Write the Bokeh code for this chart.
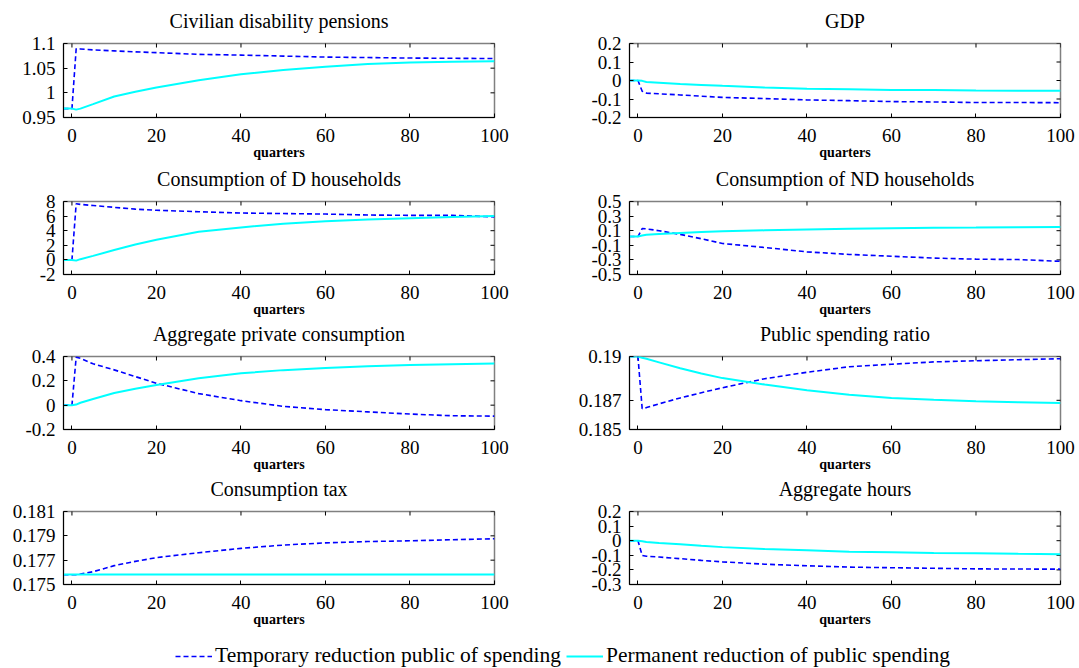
import math
from bokeh.plotting import figure
from bokeh.models import Range1d, FixedTicker, Legend, LegendItem, LinearAxis
from bokeh.layouts import column, row
from bokeh.embed import file_html
from bokeh.resources import INLINE

# ---------------- data ----------------
quarters = [-2, 0, 1, 2, 5, 10, 15, 20, 30, 40, 50, 60, 70, 80, 90, 100]
x_ticks = [0, 20, 40, 60, 80, 100]

titles = [
    "Civilian disability pensions", "GDP",
    "Consumption of D households", "Consumption of ND households",
    "Aggregate private consumption", "Public spending ratio",
    "Consumption tax", "Aggregate hours",
]
x_label = "quarters"
legend_labels = ["Temporary reduction public of spending",
                 "Permanent reduction of public spending"]

temp_pensions = [0.968, 0.968, 1.0895, 1.089, 1.087, 1.085, 1.083, 1.0815, 1.078, 1.0765, 1.0745, 1.0725, 1.0715, 1.0705, 1.070, 1.0695]
perm_pensions = [0.968, 0.968, 0.966, 0.968, 0.977, 0.9925, 1.002, 1.011, 1.0255, 1.0375, 1.0465, 1.053, 1.0585, 1.0615, 1.063, 1.064]
yt_pensions = [0.95, 1.0, 1.05, 1.1]
yl_pensions = ["0.95", "1", "1.05", "1.1"]

temp_gdp = [0, 0, -0.058, -0.068, -0.072, -0.078, -0.085, -0.091, -0.098, -0.105, -0.109, -0.114, -0.116, -0.119, -0.119, -0.120]
perm_gdp = [0, 0, -0.002, -0.008, -0.012, -0.019, -0.024, -0.029, -0.038, -0.044, -0.047, -0.051, -0.052, -0.054, -0.055, -0.056]
yt_gdp = [-0.2, -0.1, 0.0, 0.1, 0.2]
yl_gdp = ["-0.2", "-0.1", "0", "0.1", "0.2"]

temp_cons_d = [0, 0, 7.7, 7.6, 7.45, 7.2, 6.95, 6.8, 6.6, 6.42, 6.35, 6.28, 6.15, 6.1, 6.1, 5.9]
perm_cons_d = [0, 0, -0.1, 0.1, 0.55, 1.35, 2.1, 2.75, 3.85, 4.45, 4.95, 5.3, 5.55, 5.72, 5.88, 6.0]
yt_cons_d = [-2, 0, 2, 4, 6, 8]
yl_cons_d = ["-2", "0", "2", "4", "6", "8"]

temp_cons_nd = [0.02, 0.02, 0.13, 0.125, 0.1, 0.05, -0.01, -0.075, -0.13, -0.19, -0.225, -0.25, -0.275, -0.29, -0.295, -0.32]
perm_cons_nd = [0.02, 0.02, 0.035, 0.045, 0.055, 0.07, 0.082, 0.092, 0.105, 0.118, 0.127, 0.135, 0.14, 0.143, 0.147, 0.15]
yt_cons_nd = [-0.5, -0.3, -0.1, 0.1, 0.3, 0.5]
yl_cons_nd = ["-0.5", "-0.3", "-0.1", "0.1", "0.3", "0.5"]

temp_cons_agg = [0, 0, 0.395, 0.385, 0.34, 0.29, 0.235, 0.18, 0.095, 0.037, -0.01, -0.037, -0.055, -0.073, -0.087, -0.09]
perm_cons_agg = [0, 0, 0.005, 0.02, 0.05, 0.1, 0.135, 0.165, 0.222, 0.262, 0.288, 0.306, 0.32, 0.33, 0.337, 0.342]
yt_cons_agg = [-0.2, 0.0, 0.2, 0.4]
yl_cons_agg = ["-0.2", "0", "0.2", "0.4"]

temp_spend = [0.19, 0.19, 0.18643, 0.1865, 0.18676, 0.18716, 0.18752, 0.18786, 0.18848, 0.18892, 0.1893, 0.18947, 0.18963, 0.18971, 0.18978, 0.18985]
perm_spend = [0.19, 0.19, 0.18992, 0.18984, 0.1896, 0.1892, 0.18884, 0.18852, 0.18808, 0.18769, 0.18738, 0.18716, 0.18703, 0.18694, 0.18687, 0.18681]
yt_spend = [0.185, 0.187, 0.19]
yl_spend = ["0.185", "0.187", "0.19"]

temp_tax = [0.1758, 0.1758, 0.1758, 0.17585, 0.17605, 0.17655, 0.1769, 0.17721, 0.17761, 0.17797, 0.17824, 0.17842, 0.17853, 0.17859, 0.17868, 0.17876]
perm_tax = [0.17583] * 16
yt_tax = [0.175, 0.177, 0.179, 0.181]
yl_tax = ["0.175", "0.177", "0.179", "0.181"]

temp_hours = [0, 0, -0.101, -0.106, -0.112, -0.123, -0.135, -0.145, -0.161, -0.172, -0.181, -0.185, -0.189, -0.193, -0.194, -0.195]
perm_hours = [0, 0, -0.004, -0.009, -0.015, -0.024, -0.035, -0.044, -0.057, -0.066, -0.075, -0.079, -0.084, -0.086, -0.09, -0.092]
yt_hours = [-0.3, -0.2, -0.1, 0.0, 0.1, 0.2]
yl_hours = ["-0.3", "-0.2", "-0.1", "0", "0.1", "0.2"]

panels = [
    (temp_pensions, perm_pensions, yt_pensions, yl_pensions),
    (temp_gdp, perm_gdp, yt_gdp, yl_gdp),
    (temp_cons_d, perm_cons_d, yt_cons_d, yl_cons_d),
    (temp_cons_nd, perm_cons_nd, yt_cons_nd, yl_cons_nd),
    (temp_cons_agg, perm_cons_agg, yt_cons_agg, yl_cons_agg),
    (temp_spend, perm_spend, yt_spend, yl_spend),
    (temp_tax, perm_tax, yt_tax, yl_tax),
    (temp_hours, perm_hours, yt_hours, yl_hours),
]

# ---------------- style ----------------
FONT = "Liberation Serif"
BLUE = "#0000ff"
CYAN = "#00ffff"
ROW_HEIGHTS = [164, 155, 155, 156]
ROW_TOPS = [43, 36, 36, 36]
FRAME_H = 74


def style_axis(ax, ticks, standoff, labels=None):
    ax.ticker = FixedTicker(ticks=ticks)
    ax.major_tick_in = 4
    ax.major_tick_out = 0
    ax.minor_tick_line_color = None
    ax.axis_line_color = "black"
    ax.major_tick_line_color = "black"
    ax.major_label_text_font = FONT
    ax.major_label_text_color = "black"
    ax.major_label_text_font_size = "19px"
    ax.major_label_standoff = standoff
    if labels is not None:
        ax.major_label_overrides = {t: l for t, l in zip(ticks, labels)}


def make_panel(idx):
    temp, perm, yt, yl = panels[idx]
    col = idx % 2
    r = idx // 2
    h = ROW_HEIGHTS[r]
    top = ROW_TOPS[r]
    if col == 0:
        w, bl, br = 540, 63, 46
    else:
        w, bl, br = 539, 89, 19
    p = figure(width=w, height=h, x_range=Range1d(-2, 100),
               y_range=Range1d(yt[0], yt[-1]),
               output_backend="svg", toolbar_location=None,
               min_border_left=bl, min_border_right=br,
               min_border_top=top, min_border_bottom=h - top - FRAME_H)
    p.background_fill_color = "white"
    p.border_fill_color = "white"
    p.outline_line_color = "#808080"
    p.outline_line_width = 1.5
    p.xgrid.visible = False
    p.ygrid.visible = False

    style_axis(p.xaxis[0], x_ticks, 11)
    style_axis(p.yaxis[0], yt, 8, yl)
    p.xaxis.axis_label = x_label
    p.xaxis.axis_label_text_font = FONT
    p.xaxis.axis_label_text_font_size = "14px"
    p.xaxis.axis_label_text_font_style = "bold"
    p.xaxis.axis_label_text_color = "black"
    p.xaxis.axis_label_standoff = 0

    # panel title, carried by a tick-less axis above the frame
    ta = LinearAxis(ticker=FixedTicker(ticks=[]), axis_label=titles[idx],
                    axis_line_color=None, major_tick_line_color=None,
                    minor_tick_line_color=None, major_tick_in=0,
                    major_tick_out=0, major_label_standoff=0,
                    axis_label_standoff=12, axis_label_text_font=FONT,
                    axis_label_text_font_size="20px",
                    axis_label_text_font_style="normal",
                    axis_label_text_color="black")
    p.add_layout(ta, "above")

    # inward ticks on the top and right edges of the box (clipped to frame)
    p.scatter(x_ticks, [yt[-1]] * len(x_ticks), marker="dash", size=8,
              angle=math.pi / 2, line_color="black", line_width=1)
    p.scatter([100] * len(yt), yt, marker="dash", size=8,
              line_color="black", line_width=1)

    p.line(quarters, temp, line_color=BLUE, line_dash="5 3", line_width=1.6)
    p.line(quarters, perm, line_color=CYAN, line_width=2)
    return p


figs = [make_panel(i) for i in range(8)]
rows = [row(figs[2 * r], figs[2 * r + 1]) for r in range(4)]

# legend strip
lg = figure(width=1079, height=38, x_range=Range1d(0, 1), y_range=Range1d(0, 1),
            output_backend="svg", toolbar_location=None, min_border=0)
lg.outline_line_color = None
lg.xaxis.visible = False
lg.yaxis.visible = False
lg.xgrid.visible = False
lg.ygrid.visible = False
r1 = lg.line([5, 6], [5, 6], line_color=BLUE, line_dash="5 3", line_width=1.6)
r2 = lg.line([5, 6], [5, 6], line_color=CYAN, line_width=2)
legend = Legend(items=[LegendItem(label=legend_labels[0], renderers=[r1]),
                       LegendItem(label=legend_labels[1], renderers=[r2])],
                orientation="horizontal", location=(175, 0),
                label_text_font=FONT, label_text_font_size="21.5px",
                label_text_color="black",
                glyph_width=37, label_standoff=3, spacing=5,
                padding=0, margin=0, border_line_alpha=0,
                background_fill_alpha=0)
lg.add_layout(legend)

layout = column(*rows, lg)
open("out.html", "w").write(file_html(layout, INLINE))
